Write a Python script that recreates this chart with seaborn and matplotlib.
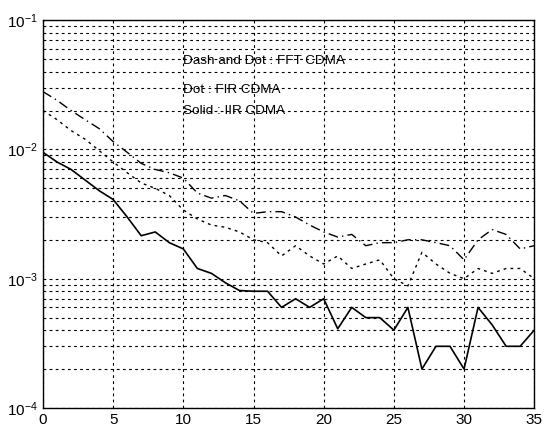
import numpy as np
import pandas as pd
import matplotlib
matplotlib.use("Agg")
import matplotlib.pyplot as plt
import seaborn as sns
from matplotlib.ticker import LogLocator, NullFormatter

# values (one point per x step)
x_vals = list(range(36))
fft_cdma = [0.028, 0.024, 0.020, 0.017, 0.0145, 0.0115, 0.0095, 0.0078, 0.0070, 0.0066,
            0.0060, 0.0046, 0.0042, 0.0044, 0.0040, 0.0032, 0.0033, 0.0033, 0.0030, 0.0026,
            0.0023, 0.0021, 0.0022, 0.0018, 0.0019, 0.0019, 0.0020, 0.0020, 0.0019, 0.0018,
            0.0014, 0.0020, 0.0024, 0.0022, 0.0017, 0.0018]
fir_cdma = [0.020, 0.017, 0.014, 0.012, 0.0098, 0.0080, 0.0066, 0.0055, 0.0050, 0.0044,
            0.0034, 0.0029, 0.0026, 0.0025, 0.0023, 0.0020, 0.0019, 0.0015, 0.0018, 0.0015,
            0.0013, 0.0015, 0.0012, 0.0013, 0.0014, 0.0010, 0.00088, 0.0016, 0.0013, 0.0011,
            0.0010, 0.0012, 0.0011, 0.0012, 0.0012, 0.0010]
iir_cdma = [0.0095, 0.008, 0.007, 0.0058, 0.0048, 0.0041, 0.0030, 0.00215, 0.0023, 0.0019,
            0.0017, 0.0012, 0.0011, 0.00093, 0.00081, 0.0008, 0.0008, 0.0006, 0.0007, 0.0006,
            0.0007, 0.00041, 0.0006, 0.0005, 0.0005, 0.0004, 0.0006, 0.0002, 0.0003, 0.0003,
            0.0002, 0.0006, 0.00044, 0.0003, 0.0003, 0.0004]
labels = ["Dash and Dot : FFT CDMA", "Dot : FIR CDMA", "Solid : IIR CDMA"]

sns.set_style("white")
plt.rcParams['font.family'] = ['Liberation Sans', 'DejaVu Sans']

fig = plt.figure(figsize=(5.44, 4.29), dpi=100)
ax = fig.add_axes([0.079, 0.049, 0.903, 0.904])

sns.lineplot(x=x_vals, y=fft_cdma, ax=ax, color="black", linewidth=1.0,
             linestyle=(0, (7, 3, 1, 3)))
sns.lineplot(x=x_vals, y=fir_cdma, ax=ax, color="black", linewidth=1.0,
             linestyle=(0, (2, 3)))
sns.lineplot(x=x_vals, y=iir_cdma, ax=ax, color="black", linewidth=1.2)

ax.set_yscale("log")
ax.set_xlim(0, 35)
ax.set_ylim(1e-4, 1e-1)
ax.set_xticks(range(0, 36, 5))
ax.yaxis.set_major_locator(LogLocator(base=10, numticks=10))
ax.yaxis.set_minor_locator(LogLocator(base=10, subs=np.arange(2, 10), numticks=20))
ax.yaxis.set_minor_formatter(NullFormatter())

ax.grid(True, which="major", color="black", linestyle=(0, (2.5, 3)), linewidth=0.8)
ax.grid(True, which="minor", axis="y", color="black", linestyle=(0, (2.5, 3)), linewidth=0.8)
ax.tick_params(axis="both", which="both", direction="in", labelsize=11, colors="black")
ax.tick_params(axis="y", which="minor", length=2)
for sp in ax.spines.values():
    sp.set_color("black")
    sp.set_linewidth(1.0)

for lab, yy in zip(labels, [0.048, 0.029, 0.020]):
    ax.text(10, yy, lab, fontsize=9.7, va="center", ha="left", color="black")

fig.savefig("out.png", dpi=100)
